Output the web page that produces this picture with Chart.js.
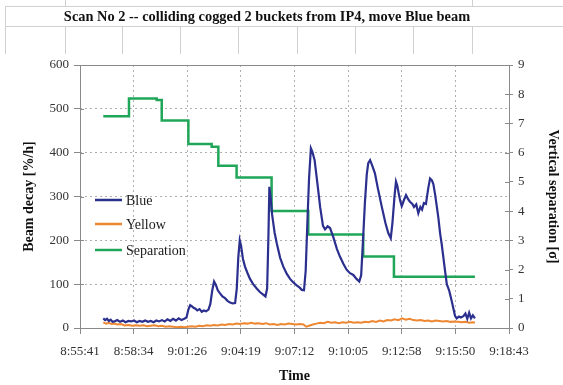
<!DOCTYPE html>
<html>
<head>
<meta charset="utf-8">
<script src="https://cdn.jsdelivr.net/npm/chart.js@4/dist/chart.umd.min.js"></script>
<style>
  html, body { margin: 0; padding: 0; background: #fff; }
  #wrap { width: 563px; height: 385px; }
</style>
</head>
<body>
<div id="wrap"><canvas id="c" width="563" height="385"></canvas></div>
<script>
// Time axis: minutes after 8:55:41, one major unit = 2.88 min
const tickLabels = ['8:55:41', '8:58:34', '9:01:26', '9:04:19', '9:07:12', '9:10:05', '9:12:58', '9:15:50', '9:18:43'];
const tickStep = 2.88;
const chartTitle = 'Scan No 2 -- colliding cogged 2 buckets from IP4, move Blue beam';

// Blue beam decay [%/h]
const blueTime = [1.25, 1.35, 1.45, 1.55, 1.65, 1.75, 1.85, 2.0, 2.15, 2.3, 2.45, 2.6, 2.75, 2.9, 3.05, 3.2, 3.35, 3.5, 3.65, 3.8, 3.95, 4.1, 4.25, 4.4, 4.55, 4.7, 4.85, 5.0, 5.15, 5.3, 5.45, 5.6, 5.72, 5.82, 5.92, 6.0, 6.1, 6.2, 6.3, 6.42, 6.54, 6.65, 6.77, 6.9, 7.0, 7.1, 7.2, 7.3, 7.4, 7.52, 7.65, 7.79, 7.92, 8.06, 8.2, 8.33, 8.42, 8.5, 8.58, 8.65, 8.75, 8.86, 9.0, 9.13, 9.3, 9.49, 9.66, 9.84, 9.96, 10.05, 10.12, 10.17, 10.24, 10.32, 10.45, 10.57, 10.75, 10.92, 11.1, 11.28, 11.46, 11.64, 11.8, 11.91, 12.03, 12.12, 12.22, 12.3, 12.4, 12.48, 12.6, 12.75, 12.9, 13.05, 13.16, 13.3, 13.43, 13.6, 13.8, 13.96, 14.15, 14.32, 14.5, 14.68, 14.85, 15.0, 15.1, 15.2, 15.3, 15.4, 15.48, 15.58, 15.7, 15.84, 16.0, 16.2, 16.4, 16.56, 16.69, 16.78, 16.9, 16.97, 17.04, 17.12, 17.2, 17.28, 17.4, 17.51, 17.62, 17.72, 17.85, 17.94, 18.06, 18.17, 18.28, 18.37, 18.47, 18.58, 18.7, 18.8, 18.9, 18.98, 19.07, 19.16, 19.25, 19.34, 19.43, 19.51, 19.6, 19.7, 19.83, 19.96, 20.05, 20.14, 20.23, 20.35, 20.45, 20.59, 20.7, 20.8, 20.9, 21.0, 21.1, 21.21];
const blueDecay = [22, 18, 21, 16, 19, 14, 15, 18, 14, 17, 13, 16, 15, 17, 13, 16, 14, 17, 14, 16, 13, 17, 15, 18, 15, 20, 16, 21, 17, 22, 18, 21, 24, 42, 52, 50, 46, 44, 40, 43, 37, 40, 38, 42, 55, 85, 106, 98, 86, 79, 72, 68, 62, 58, 56, 57, 90, 160, 200, 188, 158, 140, 125, 112, 100, 90, 82, 76, 72, 90, 210, 322, 298, 258, 218, 193, 160, 140, 124, 112, 104, 97, 92, 87, 86, 130, 250, 340, 410, 402, 383, 330, 275, 233, 225, 232, 228, 208, 180, 163, 146, 133, 125, 121, 112, 106, 120, 200, 285, 350, 376, 383, 370, 353, 318, 278, 240, 216, 205, 240, 305, 334, 325, 306, 290, 278, 292, 303, 294, 288, 283, 276, 282, 262, 276, 270, 285, 283, 318, 341, 337, 328, 305, 278, 250, 216, 190, 163, 132, 100, 85, 62, 45, 28, 22, 26, 24, 27, 33, 21, 35, 22, 29, 22];

// Yellow beam decay [%/h]
const yellowTime = [1.25, 1.4, 1.55, 1.7, 1.85, 2.0, 2.2, 2.4, 2.6, 2.8, 3.0, 3.2, 3.4, 3.6, 3.8, 4.0, 4.2, 4.4, 4.6, 4.8, 5.0, 5.2, 5.4, 5.6, 5.8, 6.0, 6.2, 6.4, 6.6, 6.8, 7.0, 7.2, 7.4, 7.6, 7.8, 8.0, 8.2, 8.4, 8.6, 8.8, 9.0, 9.2, 9.4, 9.6, 9.8, 10.0, 10.2, 10.4, 10.6, 10.8, 11.0, 11.2, 11.4, 11.6, 11.8, 12.0, 12.15, 12.3, 12.5, 12.7, 12.9, 13.1, 13.3, 13.5, 13.7, 13.9, 14.1, 14.3, 14.5, 14.7, 14.9, 15.1, 15.3, 15.5, 15.7, 15.9, 16.1, 16.3, 16.5, 16.7, 16.9, 17.1, 17.3, 17.5, 17.7, 17.9, 18.1, 18.3, 18.5, 18.7, 18.9, 19.1, 19.3, 19.5, 19.7, 19.9, 20.1, 20.3, 20.5, 20.7, 20.9, 21.1, 21.21];
const yellowDecay = [13, 10, 12, 9, 10, 8, 9, 6, 7, 5, 6, 5, 6, 4, 5, 6, 4, 5, 3, 4, 3, 2, 3, 2, 3, 4, 3, 5, 4, 6, 5, 7, 6, 8, 7, 9, 8, 10, 9, 11, 10, 12, 10, 11, 9, 11, 8, 9, 7, 9, 8, 10, 9, 8, 9, 8, 3, 5, 8, 10, 12, 11, 14, 12, 13, 11, 13, 12, 14, 12, 13, 12, 14, 13, 16, 14, 17, 15, 18, 17, 20, 18, 22, 19, 21, 18, 17, 18, 16, 17, 15, 17, 16, 15, 16, 14, 15, 14, 13, 14, 12, 13, 12];

// Vertical separation [sigma], value held until the next change
const sepTime = [1.25, 2.63, 4.12, 4.39, 5.82, 7.07, 7.43, 8.41, 10.29, 12.26, 15.21, 16.86, 21.21];
const sepValue = [7.25, 7.85, 7.8, 7.1, 6.3, 6.2, 5.55, 5.15, 4.0, 3.2, 2.45, 1.75, 1.75];

const serif = "'Liberation Serif', 'DejaVu Serif', serif";
const pts = (xs, ys) => xs.map((x, i) => ({ x: x, y: ys[i] }));

// Spreadsheet cell lines and the title row behind the chart
const sheetPlugin = {
  id: 'sheet',
  beforeDraw(chart) {
    const ctx = chart.ctx;
    ctx.save();
    ctx.fillStyle = '#fff';
    ctx.fillRect(0, 0, chart.width, chart.height);
    ctx.strokeStyle = '#d0d0d0';
    ctx.lineWidth = 1;
    ctx.beginPath();
    ctx.moveTo(5, 6.5); ctx.lineTo(563, 6.5);
    ctx.moveTo(5, 26.5); ctx.lineTo(563, 26.5);
    ctx.moveTo(5.5, 6); ctx.lineTo(5.5, 54);
    [65, 122, 180, 238, 297, 355, 413, 472].forEach(x => {
      ctx.moveTo(x + 0.5, 27); ctx.lineTo(x + 0.5, 54);
    });
    [65, 472].forEach(x => { ctx.moveTo(x + 0.5, 0); ctx.lineTo(x + 0.5, 6); });
    ctx.stroke();
    ctx.fillStyle = '#111';
    ctx.font = 'bold 14.4px ' + serif;
    ctx.textAlign = 'center';
    ctx.textBaseline = 'middle';
    ctx.fillText(chartTitle, 267, 17);
    ctx.restore();
  }
};

// Solid plot frame plus the inner halves of the value-axis ticks
const framePlugin = {
  id: 'frame',
  beforeDatasetsDraw(chart) {
    const { ctx, chartArea: a, scales } = chart;
    ctx.save();
    ctx.strokeStyle = '#8a8a8a';
    ctx.lineWidth = 1;
    ctx.strokeRect(Math.round(a.left) + 0.5, Math.round(a.top) + 0.5,
      Math.round(a.right - a.left), Math.round(a.bottom - a.top));
    ctx.beginPath();
    scales.y.ticks.forEach(t => {
      const py = Math.round(scales.y.getPixelForValue(t.value)) + 0.5;
      ctx.moveTo(a.left, py); ctx.lineTo(a.left + 4, py);
    });
    scales.y1.ticks.forEach(t => {
      const py = Math.round(scales.y1.getPixelForValue(t.value)) + 0.5;
      ctx.moveTo(a.right - 4, py); ctx.lineTo(a.right, py);
    });
    ctx.stroke();
    ctx.restore();
  }
};

// Legend drawn inside the plot area
const legendPlugin = {
  id: 'innerLegend',
  afterDatasetsDraw(chart) {
    const ctx = chart.ctx;
    const rows = [200, 224, 250];
    ctx.save();
    ctx.font = '14px ' + serif;
    ctx.textBaseline = 'middle';
    ctx.textAlign = 'left';
    chart.data.datasets.forEach((ds, i) => {
      ctx.strokeStyle = ds.borderColor;
      ctx.lineWidth = 2.5;
      ctx.beginPath();
      ctx.moveTo(95, rows[i]); ctx.lineTo(122, rows[i]);
      ctx.stroke();
      ctx.fillStyle = '#1a1a1a';
      ctx.fillText(ds.label, 126, rows[i] + 1);
    });
    ctx.restore();
  }
};

const tickFont = { family: serif, size: 13 };
const axisTitleFont = { family: serif, size: 14, weight: 'bold' };

new Chart(document.getElementById('c'), {
  type: 'line',
  data: {
    datasets: [
      { label: 'Blue', data: pts(blueTime, blueDecay), borderColor: '#2b2f8e', borderWidth: 2.2, pointRadius: 0, yAxisID: 'y', tension: 0 },
      { label: 'Yellow', data: pts(yellowTime, yellowDecay), borderColor: '#ee8731', borderWidth: 2, pointRadius: 0, yAxisID: 'y', tension: 0 },
      { label: 'Separation', data: pts(sepTime, sepValue), borderColor: '#1fa659', borderWidth: 2.5, pointRadius: 0, yAxisID: 'y1', stepped: 'before' }
    ]
  },
  options: {
    responsive: false,
    animation: false,
    events: [],
    layout: { padding: { top: 65, left: 0, right: 0, bottom: 0 } },
    plugins: { legend: { display: false }, title: { display: false }, tooltip: { enabled: false } },
    scales: {
      x: {
        type: 'linear', min: 0, max: tickStep * (tickLabels.length - 1),
        afterBuildTicks: s => { s.ticks = tickLabels.map((_, i) => ({ value: i * tickStep })); },
        afterFit: s => { s.height = 57; },
        ticks: { callback: (v, i) => tickLabels[i], font: tickFont, color: '#333', padding: 10, maxRotation: 0, autoSkip: false },
        grid: { color: '#b0b0b0', tickColor: '#8a8a8a', tickLength: 6, tickBorderDash: [] },
        border: { display: false, dash: [2, 3] },
        title: { display: true, text: 'Time', font: axisTitleFont, color: '#111', padding: { top: 0, bottom: 0 } }
      },
      y: {
        position: 'left', min: 0, max: 600,
        afterFit: s => { s.width = 80; },
        ticks: { stepSize: 100, font: tickFont, color: '#333', padding: 5 },
        grid: { color: '#b0b0b0', tickColor: '#8a8a8a', tickLength: 6, tickBorderDash: [] },
        border: { display: false, dash: [2, 3] },
        title: { display: true, text: 'Beam decay [%/h]', font: axisTitleFont, color: '#111', padding: { top: 21, bottom: 0 } }
      },
      y1: {
        position: 'right', min: 0, max: 9,
        afterFit: s => { s.width = 54; },
        ticks: { stepSize: 1, font: tickFont, color: '#333', padding: 5 },
        grid: { drawOnChartArea: false, tickColor: '#8a8a8a', tickLength: 4, tickBorderDash: [] },
        border: { display: false },
        title: { display: true, text: 'Vertical separation [σ]', font: axisTitleFont, color: '#111', padding: { top: 2, bottom: 0 } }
      }
    }
  },
  plugins: [sheetPlugin, framePlugin, legendPlugin]
});
</script>
</body>
</html>
